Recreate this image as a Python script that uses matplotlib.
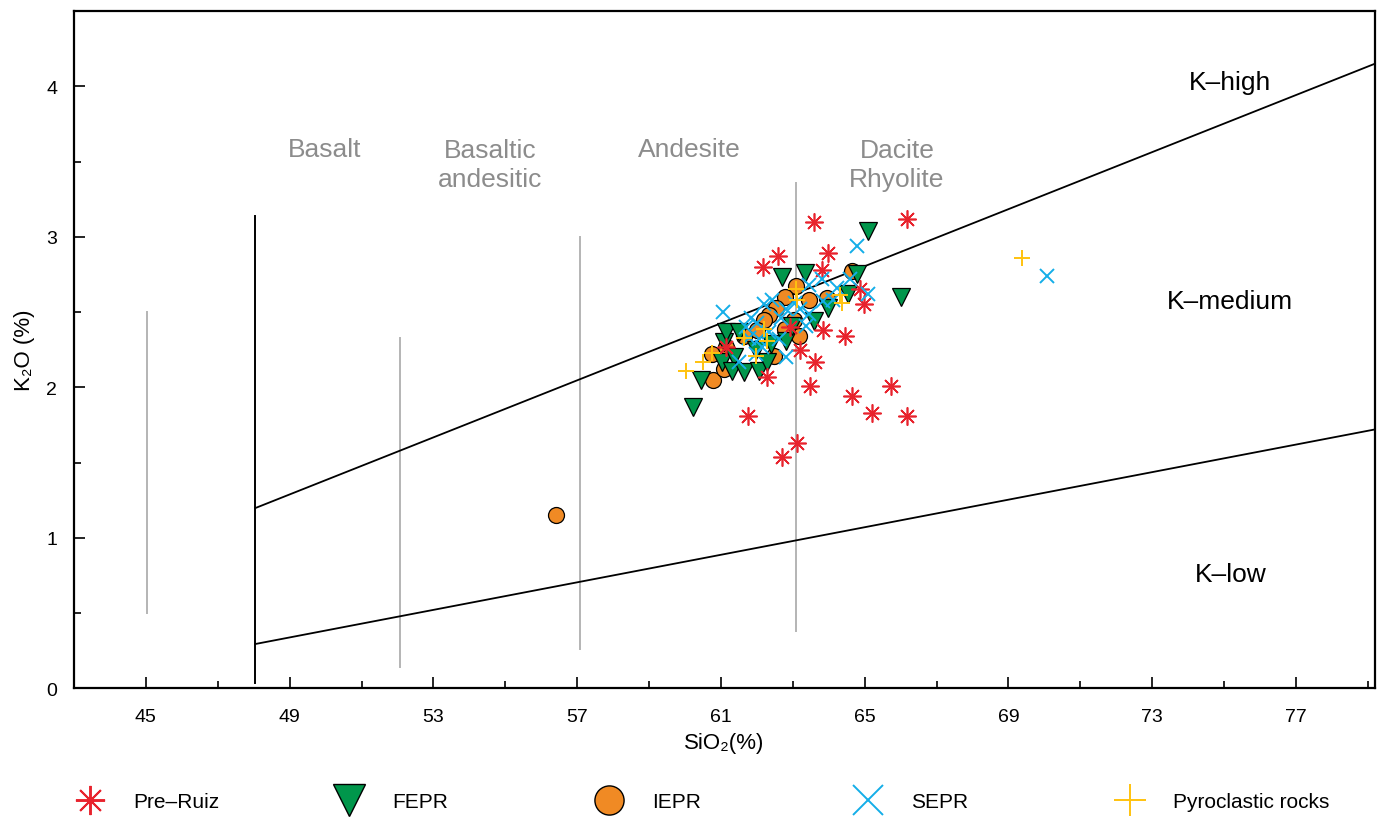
import matplotlib
matplotlib.use("Agg")
import matplotlib.pyplot as plt
from matplotlib.lines import Line2D

plt.rcParams['font.family'] = ['Liberation Sans', 'DejaVu Sans']

# ---------------- data ----------------
pre_ruiz_sio2 = [66.17, 63.60, 63.97, 62.60, 62.18, 63.80, 64.86, 64.97, 63.85, 64.44,
                 63.21, 63.63, 63.49, 64.64, 65.72, 65.21, 66.17, 63.13, 61.76, 62.29,
                 62.71, 61.15, 62.91]
pre_ruiz_k2o = [3.12, 3.10, 2.89, 2.87, 2.80, 2.78, 2.65, 2.55, 2.38, 2.34,
                2.25, 2.17, 2.01, 1.94, 2.01, 1.83, 1.81, 1.63, 1.81, 2.07,
                1.54, 2.27, 2.40]

fepr_sio2 = [65.08, 62.71, 63.35, 64.78, 64.55, 63.99, 66.00, 60.21, 60.46, 61.04,
             61.37, 61.31, 61.65, 62.07, 62.27, 61.09, 61.15, 61.51, 62.82, 62.99,
             63.60, 62.40, 61.98]
fepr_k2o = [3.04, 2.73, 2.76, 2.75, 2.62, 2.53, 2.60, 1.87, 2.05, 2.17,
            2.20, 2.11, 2.10, 2.11, 2.17, 2.30, 2.37, 2.37, 2.31, 2.41,
            2.44, 2.29, 2.25]

iepr_sio2 = [56.42, 64.64, 63.10, 62.77, 62.54, 62.35, 62.21, 62.01, 63.46, 63.96,
             63.18, 60.74, 60.77, 61.09, 62.49, 61.65, 61.15, 63.04, 62.77]
iepr_k2o = [1.15, 2.77, 2.67, 2.60, 2.53, 2.48, 2.45, 2.38, 2.58, 2.59,
            2.34, 2.22, 2.05, 2.12, 2.21, 2.34, 2.27, 2.45, 2.39]

sepr_sio2 = [64.78, 70.07, 61.06, 65.08, 63.46, 63.80, 64.22, 64.58, 63.83, 63.19,
             63.46, 63.05, 63.38, 61.85, 61.71, 62.01, 62.35, 62.68, 62.82, 62.43,
             61.51, 61.98, 62.15, 62.82, 61.79, 62.21, 62.07, 62.63, 64.11]
sepr_k2o = [2.94, 2.74, 2.50, 2.62, 2.68, 2.72, 2.66, 2.72, 2.57, 2.52,
            2.49, 2.56, 2.41, 2.46, 2.40, 2.43, 2.37, 2.46, 2.52, 2.58,
            2.17, 2.22, 2.27, 2.20, 2.33, 2.55, 2.32, 2.32, 2.58]

pyro_sio2 = [69.39, 60.04, 60.49, 60.74, 61.65, 61.98, 62.29, 63.10, 63.13, 64.30,
             64.36, 62.21]
pyro_k2o = [2.86, 2.11, 2.17, 2.23, 2.33, 2.21, 2.31, 2.65, 2.58, 2.61,
            2.56, 2.39]

# series boundaries (SiO2, K2O)
high_med_x = [48.04, 79.2]
high_med_y = [1.197, 4.15]
med_low_x = [48.04, 79.2]
med_low_y = [0.294, 1.72]

# rock-type dividers: x, ymin, ymax
div_x = [45.03, 48.04, 52.07, 57.08, 63.09]
div_ymin = [0.50, 0.035, 0.14, 0.26, 0.38]
div_ymax = [2.50, 3.14, 2.33, 3.00, 3.36]
div_color = ['#b4b4b4', '#000000', '#b4b4b4', '#b4b4b4', '#b4b4b4']

rock_labels = ['Basalt', 'Basaltic\nandesitic', 'Andesite', 'Dacite\nRhyolite']
rock_x = [49.98, 54.58, 60.11, 65.9]
rock_y = [3.58, 3.48, 3.58, 3.48]

series_labels = ['K–high', 'K–medium', 'K–low']
series_x = [75.16, 75.16, 75.19]
series_y = [4.03, 2.57, 0.76]

xticks_major = [45, 49, 53, 57, 61, 65, 69, 73, 77]
xticks_minor = [47, 51, 55, 59, 63, 67, 71, 75, 79]
yticks_major = [0, 1, 2, 3, 4]
yticks_minor = [0.5, 1.5, 2.5, 3.5]

legend_labels = ['Pre–Ruiz', 'FEPR', 'IEPR', 'SEPR', 'Pyroclastic rocks']

c_red = '#e8232d'
c_green = '#00964b'
c_orange = '#f08a24'
c_blue = '#14aee8'
c_yellow = '#ffc20e'

asterisk = (8, 2, 0)

# ---------------- figure ----------------
W, H = 1379, 820
fig = plt.figure(figsize=(W / 100, H / 100), dpi=100)
ax = fig.add_axes([74 / W, 1 - 689.3 / H, (1375 - 74) / W, (689.3 - 12) / H])
ax.set_xlim(43, 79.2)
ax.set_ylim(0, 4.5)

for x, y0, y1, c in zip(div_x, div_ymin, div_ymax, div_color):
    ax.plot([x, x], [y0, y1], color=c, lw=1.4, zorder=1)

ax.plot(high_med_x, high_med_y, color='black', lw=1.3, zorder=1)
ax.plot(med_low_x, med_low_y, color='black', lw=1.3, zorder=1)

for t, x, y in zip(rock_labels, rock_x, rock_y):
    ax.text(x, y, t, ha='center', va='center', fontsize=19, color='#8c8c8c',
            linespacing=1.3)
for t, x, y in zip(series_labels, series_x, series_y):
    ax.text(x, y, t, ha='center', va='center', fontsize=19, color='black')

ax.plot(iepr_sio2, iepr_k2o, linestyle='none', marker='o', ms=11.5,
        mfc=c_orange, mec='black', mew=0.9, zorder=3)
ax.plot(fepr_sio2, fepr_k2o, linestyle='none', marker='v', ms=12.5,
        mfc=c_green, mec='black', mew=0.9, zorder=4)
ax.plot(pre_ruiz_sio2, pre_ruiz_k2o, linestyle='none', marker=asterisk, ms=13,
        mec=c_red, mew=1.2, zorder=5)
ax.plot(sepr_sio2, sepr_k2o, linestyle='none', marker='x', ms=9.5,
        mec=c_blue, mew=1.4, zorder=6)
ax.plot(pyro_sio2, pyro_k2o, linestyle='none', marker='+', ms=11.5,
        mec=c_yellow, mew=1.4, zorder=7)

ax.set_xticks(xticks_major)
ax.set_xticks(xticks_minor, minor=True)
ax.set_yticks(yticks_major)
ax.set_yticks(yticks_minor, minor=True)
ax.tick_params(which='both', direction='in', width=1.2, labelsize=14)
ax.tick_params(which='major', length=8)
ax.tick_params(which='minor', length=5)
ax.tick_params(axis='x', pad=14)
ax.tick_params(axis='y', pad=12)
for s in ax.spines.values():
    s.set_linewidth(1.6)

ax.set_xlabel('SiO₂(%)', fontsize=16, labelpad=5)
ax.set_ylabel('K₂O (%)', fontsize=16, labelpad=8)

handles = [
    Line2D([], [], linestyle='none', marker=asterisk, ms=21, mec=c_red, mew=1.4),
    Line2D([], [], linestyle='none', marker='v', ms=23, mfc=c_green, mec='black', mew=1.0),
    Line2D([], [], linestyle='none', marker='o', ms=21, mfc=c_orange, mec='black', mew=1.0),
    Line2D([], [], linestyle='none', marker='x', ms=21, mec=c_blue, mew=1.4),
    Line2D([], [], linestyle='none', marker='+', ms=23, mec=c_yellow, mew=1.4),
]
legend_marker_px = [90, 349, 609, 868, 1130]
fs_leg = 15
half_handle_px = 2.0 * fs_leg / 2 * 100 / 72
for h, lab, xm in zip(handles, legend_labels, legend_marker_px):
    fig.legend([h], [lab], loc='center left', frameon=False, fontsize=fs_leg,
               bbox_to_anchor=((xm - half_handle_px) / W, 1 - 803 / H),
               borderpad=0, borderaxespad=0, handlelength=2.0,
               handletextpad=1.06)

fig.savefig('out.png', dpi=100)
